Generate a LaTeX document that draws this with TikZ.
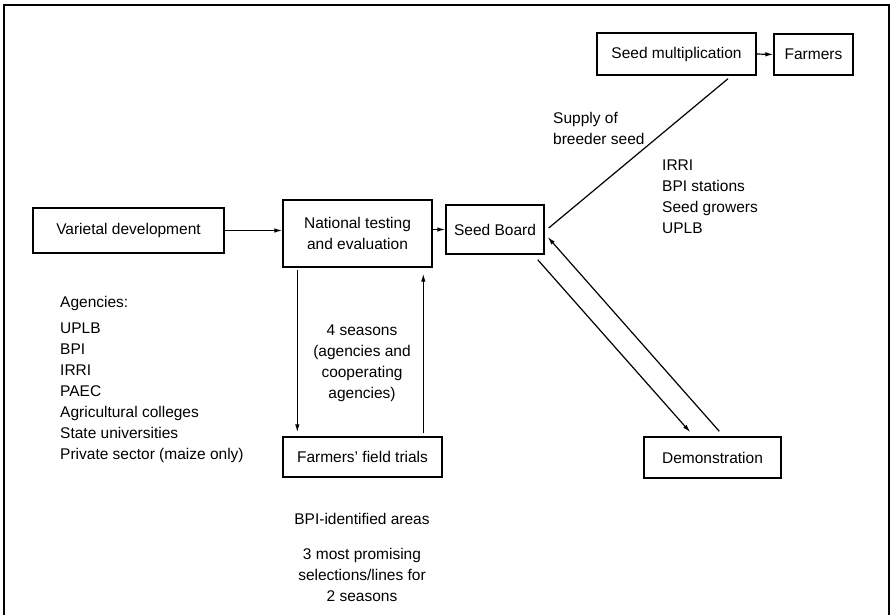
\documentclass[tikz,border=0pt]{standalone}
\usepackage{fontspec}
\setmainfont{Liberation Sans}
\usetikzlibrary{arrows.meta,calc}
\tikzset{
  box/.style={draw, line width=1.4pt, rectangle, inner sep=0pt, align=center},
  lbl/.style={inner sep=0pt},
  conn/.style={line width=1.2pt},
  arr/.style={conn, -{Latex[length=8pt,width=4.5pt]}},
  every node/.style={font=\fontsize{15.5}{21}\selectfont}
}
\begin{document}
\begin{tikzpicture}[x=1pt,y=-1pt]
  \useasboundingbox (0,0) rectangle (892,614);
  % outer frame, open at the bottom
  \draw[line width=1.5pt] (4,620) -- (4,5) -- (889,5) -- (889,620);

  % boxes
  \node[box, minimum width=159, minimum height=42] (seedmult) at (676.5,54) {Seed multiplication};
  \node[box, minimum width=79, minimum height=41] (farmers) at (813.5,54.5) {Farmers};
  \node[box, minimum width=191, minimum height=45] (varietal) at (128.5,230.5) {Varietal development};
  \node[box, minimum width=149, minimum height=67] (national) at (357.5,233.5) {National testing\\and evaluation};
  \node[box, minimum width=98, minimum height=49] (seedboard) at (495,229.5) {Seed Board};
  \node[box, minimum width=159, minimum height=40] (trials) at (362.5,457) {Farmers' field trials};
  \node[box, minimum width=137, minimum height=41] (demo) at (712.5,457.5) {Demonstration};

  % connectors
  \draw[arr] (seedmult.east) -- (farmers.west);
  \draw[arr] (varietal.east) -- (varietal.east -| national.west);
  \draw[arr] (national.east |- seedboard.west) -- (seedboard.west);
  \draw[arr] ($(national.south west)+(15,2)$) -- ($(trials.north west)+(15,-4)$);
  \draw[arr] ($(trials.north west)+(141,-3)$) -- ($(national.south west)+(141,6)$);
  \draw[arr] ($(seedboard.south east)+(-7,5)$) -- ($(demo.north west)+(47,-4)$);
  \draw[arr] ($(demo.north west)+(76,-5)$) -- ($(seedboard.east)+(3,7.5)$);
  \draw[conn] ($(seedboard.east)+(4,-1.5)$) -- ($(seedmult.south)+(51.5,3)$);

  % annotations
  \node[lbl, anchor=west, align=left] (supply) at (553,128) {Supply of\\breeder seed};
  \node[lbl, anchor=west, align=left] (producers) at (662,197) {IRRI\\BPI stations\\Seed growers\\UPLB};
  \node[lbl, anchor=west] (agencies) at (60,303) {Agencies:};
  \node[lbl, anchor=west, align=left] (agencylist) at (60,393) {UPLB\\BPI\\IRRI\\PAEC\\Agricultural colleges\\State universities\\Private sector (maize only)};
  \node[lbl, align=center] (seasons) at (362,363) {4 seasons\\(agencies and\\cooperating\\agencies)};
  \node[lbl] (areas) at (362,519) {BPI-identified areas};
  \node[lbl, align=center] (selections) at (362,575) {3 most promising\\selections/lines for\\2 seasons};
\end{tikzpicture}
\end{document}
